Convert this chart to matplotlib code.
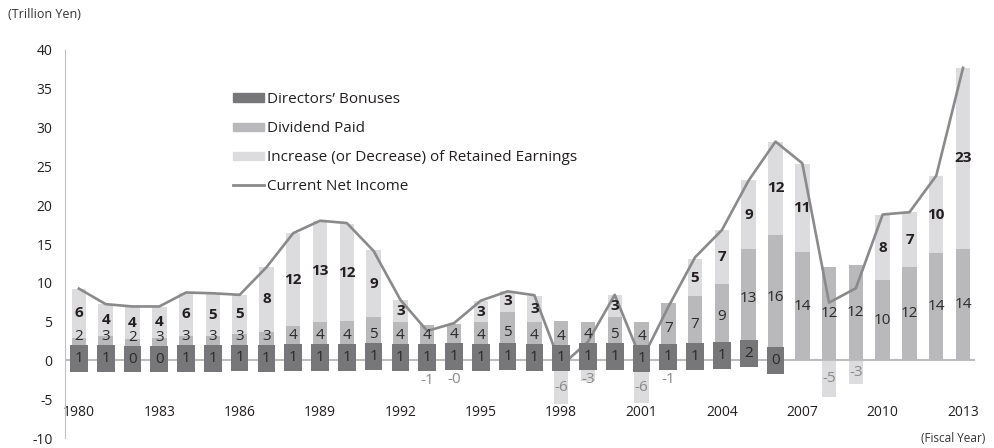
import numpy as np
import matplotlib.pyplot as plt
from matplotlib.patches import Patch
from matplotlib.lines import Line2D

plt.rcParams['font.family'] = ['Open Sans', 'DejaVu Sans']
plt.rcParams['axes.unicode_minus'] = False

# Japanese corporate income breakdown (trillion yen), fiscal years 1980-2013
years = list(range(1980, 2014))
nan = np.nan
bonus = [0.56, 0.56, 0.34, 0.34, 0.56, 0.56, 0.65, 0.56, 0.82, 0.82,
         0.80, 1.05, 0.77, 0.70, 0.95, 0.70, 0.95, 0.75, 0.65, 0.95,
         0.95, 0.56, 0.90, 1.05, 1.35, 1.75, 0.00,
         nan, nan, nan, nan, nan, nan, nan]
dividend = [2.39, 2.54, 2.45, 2.61, 2.59, 2.59, 2.75, 3.14, 3.55, 4.18,
            4.30, 4.55, 4.13, 3.80, 3.75, 4.20, 5.35, 4.25, 4.45, 3.95,
            4.70, 4.44, 6.55, 7.20, 8.55, 12.55, 16.20,
            14.0, 12.1, 12.3, 10.3, 12.0, 13.8, 14.4]
retained = [6.25, 4.15, 4.15, 3.95, 5.60, 5.45, 5.05, 8.30, 12.0, 13.0,
            12.45, 8.60, 2.90, -0.70, -0.10, 2.80, 2.60, 3.35, -5.60, -2.70,
            2.80, -5.55, -0.55, 4.85, 6.90, 8.95, 12.0,
            11.35, -4.75, -3.0, 8.45, 7.10, 10.0, 23.3]
net_income = [9.25, 7.25, 6.95, 6.95, 8.75, 8.65, 8.45, 12.0, 16.4, 18.0,
              17.7, 14.1, 7.8, 3.8, 4.8, 7.7, 8.9, 8.4, -0.7, 2.4,
              8.45, 0.0, 6.9, 13.3, 16.8, 23.2, 28.2,
              25.4, 7.45, 9.3, 18.8, 19.1, 23.8, 37.7]

c_bonus = '#77777a'
c_div = '#b9b9bc'
c_ret = '#dcdcde'
c_line = '#8a8a8a'
c_text = '#231f20'

x = np.array(years, dtype=float)
b = np.nan_to_num(np.array(bonus))
d = np.array(dividend)
r = np.array(retained)
has_box = ~np.isnan(np.array(bonus))

BAR_W = 0.54
BOX_W = 0.66
BOX_H = 3.44

fig = plt.figure(figsize=(9.95, 4.48), dpi=100)
ax = fig.add_axes([0.0653, 0.0223, 0.9147, 0.8661])

# stacked bars: bonus -> dividend -> retained (negative retained goes down from 0)
ax.bar(x, b, BAR_W, color=c_bonus, zorder=2)
ax.bar(x, d, BAR_W, bottom=b, color=c_div, zorder=2)
ret_bottom = np.where(r >= 0, b + d, 0)
ax.bar(x, r, BAR_W, bottom=ret_bottom, color=c_ret, zorder=1)

ax.plot(x, net_income, color=c_line, lw=1.9, zorder=3, solid_joinstyle='round')

# dark label boxes for directors' bonuses
box_mid = b / 2
ax.bar(x[has_box], BOX_H, BOX_W, bottom=box_mid[has_box] - BOX_H / 2,
       color=c_bonus, zorder=4)
box_top = box_mid + BOX_H / 2
box_bot = box_mid - BOX_H / 2

for i in range(len(years)):
    if has_box[i]:
        ax.text(x[i], box_mid[i], f"{bonus[i]:.0f}", ha='center', va='center',
                fontsize=11, color='#2a2a2a', zorder=6)
    # dividend label
    ymid = b[i] + d[i] / 2
    if has_box[i]:
        ymid = max(ymid, box_top[i] + 1.1)
    ax.text(x[i], ymid, f"{d[i]:.0f}", ha='center', va='center',
            fontsize=11, color='#2a2a2a', zorder=5)
    # retained label
    if r[i] >= 0:
        ax.text(x[i], ret_bottom[i] + r[i] / 2, f"{r[i]:.0f}", ha='center',
                va='center', fontsize=11, fontweight='bold', color=c_text,
                zorder=5)
    else:
        if has_box[i]:
            yl = min((box_bot[i] + r[i]) / 2, box_bot[i] - 1.2)
        else:
            yl = r[i] / 2
        ax.text(x[i], yl, f"{r[i]:.0f}", ha='center', va='center',
                fontsize=11, color='#8a8a8a', zorder=3)

ax.axhline(0, color='#bdbdbd', lw=1.5, zorder=1.5)

ax.set_xlim(1979.48, 2013.45)
ax.set_ylim(-10, 40)
ax.set_yticks(range(-10, 45, 5))
ax.set_xticks(years[::3])
ax.set_xticklabels([str(y) for y in years[::3]])
ax.spines['bottom'].set_position(('data', -5.2))
ax.spines['bottom'].set_visible(False)
for s in ['top', 'right']:
    ax.spines[s].set_visible(False)
ax.spines['left'].set_color('#c0c0c0')
ax.tick_params(axis='y', length=0, pad=9, labelsize=10, labelcolor=c_text)
ax.tick_params(axis='x', length=0, pad=3, labelsize=10, labelcolor=c_text)

handles = [Patch(color=c_bonus), Patch(color=c_div), Patch(color=c_ret),
           Line2D([], [], color=c_line, lw=2)]
labels = ["Directors’ Bonuses", "Dividend Paid",
          "Increase (or Decrease) of Retained Earnings", "Current Net Income"]
leg = fig.legend(handles, labels, loc='upper left',
                 bbox_to_anchor=(233 / 995, 1 - 92 / 448), frameon=False,
                 fontsize=11, handlelength=2.0, handleheight=0.45,
                 handletextpad=0.25, labelspacing=0.92, borderpad=0,
                 borderaxespad=0)
for t in leg.get_texts():
    t.set_color(c_text)

fig.text(8 / 995, 1 - 14 / 448, "(Trillion Yen)", fontsize=9, color='#333333',
         va='center')
fig.text(985 / 995, 1 - 438 / 448, "(Fiscal Year)", fontsize=8.5, color='#333333',
         va='center', ha='right')

fig.savefig('out.png', dpi=100)
